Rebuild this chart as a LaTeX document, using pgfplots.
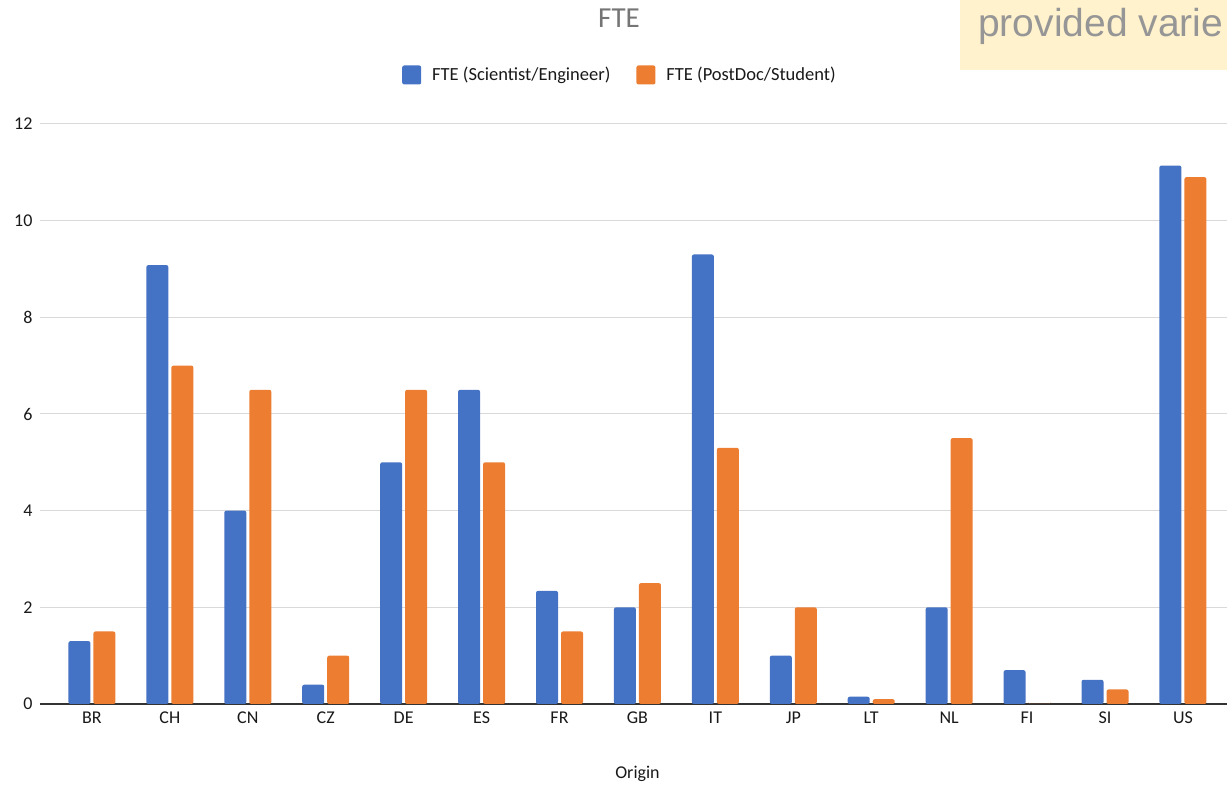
\documentclass[border=0pt]{standalone}
\usepackage{fontspec}
\setmainfont{Carlito}
\newfontfamily\notefont{Liberation Sans}
\usepackage{pgfplots}
\pgfplotsset{compat=1.18}
\definecolor{barblue}{HTML}{4472C4}
\definecolor{barorange}{HTML}{ED7D31}
\definecolor{gridgray}{HTML}{D9D9D9}
\definecolor{titlegray}{HTML}{757575}
\definecolor{notefill}{HTML}{FFF2CC}
\definecolor{notetext}{HTML}{969696}

\begin{document}
\begin{tikzpicture}
\useasboundingbox (0,0) rectangle (1227pt,786pt);
\clip (0,0) rectangle (1227pt,786pt);
\begin{axis}[
  at={(40pt,82pt)}, anchor=south west,
  scale only axis, width=1194.9pt, height=580pt,
  xmin=-0.6667, xmax=14.6667, ymin=0, ymax=12,
  ybar=3pt, bar width=22pt,
  xtick={0,...,14},
  xticklabels={BR,CH,CN,CZ,DE,ES,FR,GB,IT,JP,LT,NL,FI,SI,US},
  ytick={0,2,...,12},
  ymajorgrids, major grid style={gridgray, line width=1pt},
  major tick length=0pt,
  axis x line*=bottom, axis y line*=left,
  y axis line style={draw=none},
  x axis line style={black!80, line width=1.3pt},
  tick label style={font=\fontsize{18}{21}\selectfont, text=black!90},
  /pgf/number format/assume math mode=true,
  yticklabel style={xshift=-4pt},
  xticklabel style={yshift=-4pt},
  legend style={at={(0.4854,1.0845)}, anchor=center, draw=none, fill=none,
    font=\fontsize{18.5}{21}\selectfont, text=black!90, legend columns=2,
    /tikz/every odd column/.append style={column sep=9pt},
    /tikz/every even column/.append style={column sep=24pt}},
  legend image code/.code={\fill[#1] (0pt,-9.5pt) rectangle (19pt,9.5pt);},
]
% Scientist / Engineer
\addplot[fill=barblue, draw=none, rounded corners=2pt] coordinates {
  (0,1.3) (1,9.08) (2,4.0) (3,0.4) (4,5.0) (5,6.5) (6,2.34) (7,2.0)
  (8,9.3) (9,1.0) (10,0.15) (11,2.0) (12,0.7) (13,0.5) (14,11.14)};
% PostDoc / Student
\addplot[fill=barorange, draw=none, rounded corners=2pt] coordinates {
  (0,1.5) (1,7.0) (2,6.5) (3,1.0) (4,6.5) (5,5.0) (6,1.5) (7,2.5)
  (8,5.3) (9,2.0) (10,0.1) (11,5.5) (12,0) (13,0.3) (14,10.9)};
\legend{FTE (Scientist/Engineer), FTE (PostDoc/Student)}
\end{axis}
% chart title and axis title
\node[anchor=base, inner sep=0, text=titlegray, font=\fontsize{29}{34}\selectfont] at (619pt,758pt) {FTE};
\node[anchor=base, inner sep=0, text=black!90, font=\fontsize{18}{21}\selectfont] at (637.5pt,7.5pt) {Origin};
% sticky note in the corner
\fill[notefill] (960pt,716pt) rectangle (1240pt,790pt);
\node[anchor=base west, inner sep=0, text=notetext, font=\notefont\fontsize{39}{46}\selectfont] at (978pt,749pt) {provided varie};
\end{tikzpicture}
\end{document}
